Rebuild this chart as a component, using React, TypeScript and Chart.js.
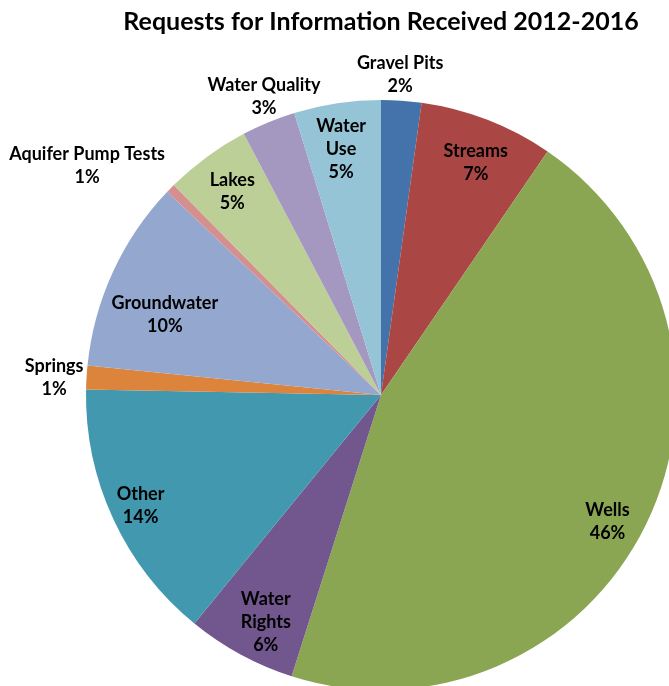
import React, { useEffect, useRef } from "react";
import { Chart, registerables } from "chart.js";

Chart.register(...registerables);

const categories = [
  "Gravel Pits",
  "Streams",
  "Wells",
  "Water Rights",
  "Other",
  "Springs",
  "Groundwater",
  "Aquifer Pump Tests",
  "Lakes",
  "Water Quality",
  "Water Use",
];

// share of requests (percent)
const shares = [2.2, 7.35, 45.35, 6.0, 14.4, 1.3, 10.5, 0.5, 4.7, 2.95, 4.75];

// percentage text shown on the labels
const percentLabels = ["2%", "7%", "46%", "6%", "14%", "1%", "10%", "1%", "5%", "3%", "5%"];

// how each category name is broken onto lines
const nameLines = [
  ["Gravel Pits"],
  ["Streams"],
  ["Wells"],
  ["Water", "Rights"],
  ["Other"],
  ["Springs"],
  ["Groundwater"],
  ["Aquifer Pump Tests"],
  ["Lakes"],
  ["Water Quality"],
  ["Water", "Use"],
];

const title = "Requests for Information Received 2012-2016";

const sliceColors = [
  "#4472AA",
  "#AA4744",
  "#8AA652",
  "#72578F",
  "#4198AF",
  "#DC843C",
  "#94A8CF",
  "#D68F8F",
  "#BBCF96",
  "#A598C0",
  "#94C4D6",
];

// label placement: radial factor of the outer radius, plus a small pixel nudge
const labelRadius = [1.087, 0.853, 0.877, 0.863, 0.898, 1.11, 0.78, 1.263, 0.854, 1.085, 0.842];
const labelNudge: [number, number][] = [
  [-3, 0],
  [4, 2],
  [-6, 13],
  [6, 3],
  [0, -1],
  [0, 2],
  [-7, 16],
  [-28, 32],
  [0, 0],
  [5, -2],
  [-3, 0],
];

const FONT = "Lato, 'Open Sans', 'DejaVu Sans', sans-serif";

const labelPlugin = {
  id: "sliceLabels",
  afterDatasetsDraw(chart: any) {
    const ctx = chart.ctx;
    const meta = chart.getDatasetMeta(0);
    ctx.save();
    ctx.font = `bold 18px ${FONT}`;
    ctx.fillStyle = "#000";
    ctx.textAlign = "center";
    ctx.textBaseline = "middle";
    const lineH = 23;
    meta.data.forEach((arc: any, i: number) => {
      const p = arc.getProps(["x", "y", "startAngle", "endAngle", "outerRadius"], true);
      const mid = (p.startAngle + p.endAngle) / 2;
      const r = p.outerRadius * labelRadius[i];
      const cx = p.x + Math.cos(mid) * r + labelNudge[i][0];
      const cy = p.y + Math.sin(mid) * r + labelNudge[i][1];
      const lines = [...nameLines[i], percentLabels[i]];
      lines.forEach((t, k) => {
        const yy = cy + (k - (lines.length - 1) / 2) * lineH;
        ctx.fillText(t, cx, yy);
      });
    });
    ctx.restore();
  },
};

export default function App() {
  const ref = useRef<HTMLCanvasElement | null>(null);

  useEffect(() => {
    if (!ref.current) return;
    const chart = new Chart(ref.current, {
      type: "pie",
      data: {
        labels: categories,
        datasets: [
          {
            data: shares,
            backgroundColor: sliceColors,
            borderWidth: 0,
          },
        ],
      },
      options: {
        animation: false,
        responsive: false,
        devicePixelRatio: 1,
        layout: { padding: 0 },
        plugins: {
          legend: { display: false },
          tooltip: { enabled: false },
          title: {
            display: true,
            text: title,
            color: "#000",
            font: { family: FONT, size: 25, weight: "bold", lineHeight: 1.2 },
            padding: { top: 7, bottom: 63 },
          },
        },
      },
      plugins: [labelPlugin],
    });
    return () => chart.destroy();
  }, []);

  return (
    <div
      style={{
        position: "fixed",
        left: 0,
        top: 0,
        width: 669,
        height: 686,
        overflow: "hidden",
        background: "#fff",
      }}
    >
      <canvas ref={ref} width={762} height={690} style={{ display: "block" }} />
    </div>
  );
}
